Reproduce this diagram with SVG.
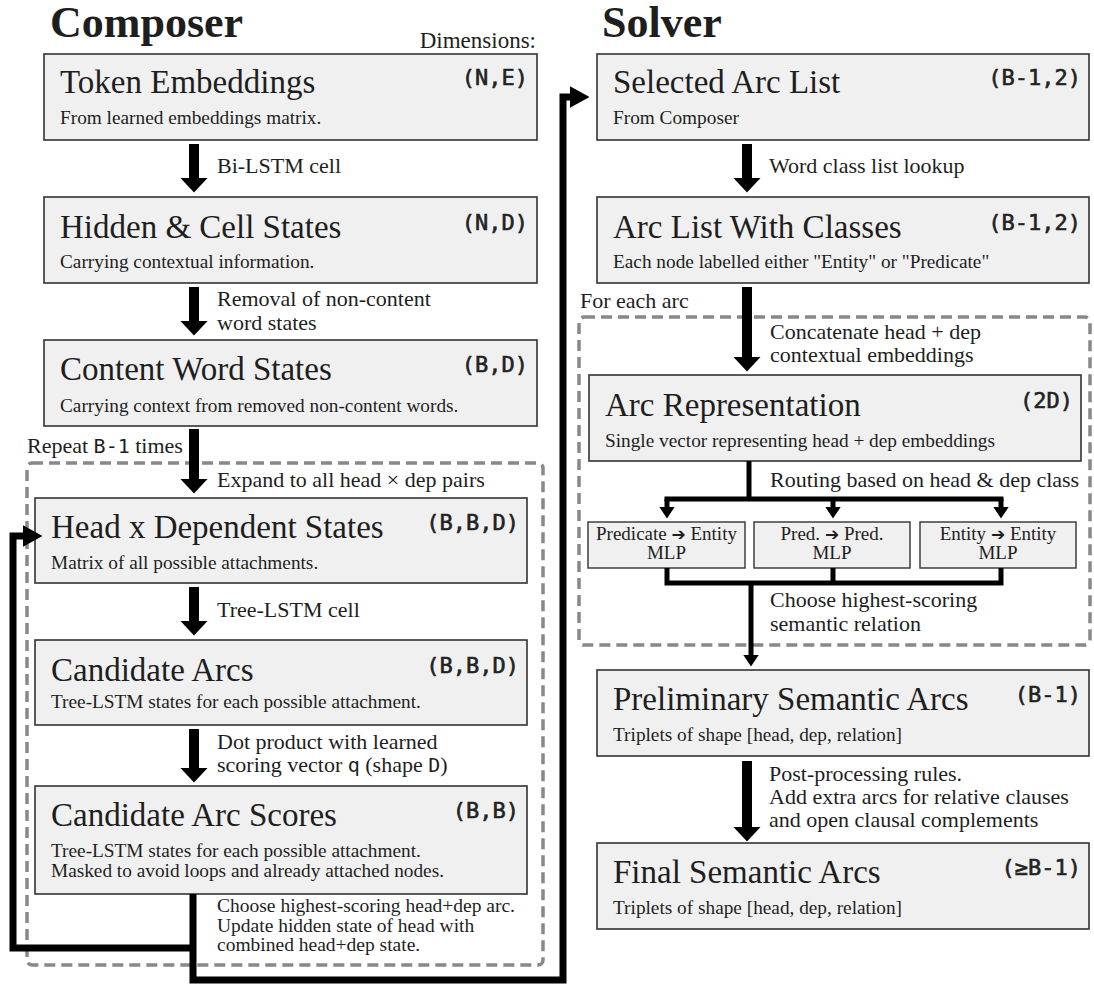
<svg xmlns="http://www.w3.org/2000/svg" width="1094" height="985" viewBox="0 0 1094 985">
<style>
text{font-family:"Liberation Serif","Times New Roman",serif;fill:#1e1e1e}
.box{fill:#f0f0f0;stroke:#333;stroke-width:1.6}
.mlp{fill:#f0f0f0;stroke:#333;stroke-width:1.4}
.t{font-size:33px}
.s{font-size:19.3px}
.l{font-size:22px}
.c{font-size:19.5px}
.m{font-size:19px;text-anchor:middle}
.h{font-size:44px;font-weight:bold}
.d{font-family:"DejaVu Sans Mono",monospace;font-size:22px;text-anchor:end;fill:#222;stroke:#222;stroke-width:0.6}
.mono{font-family:"DejaVu Sans Mono",monospace;font-size:20px}
.big{stroke:#000;stroke-width:10;fill:none}
.loop{stroke:#000;stroke-width:7;fill:none;stroke-linejoin:miter}
.route{stroke:#000;stroke-width:5;fill:none}
.dash{fill:none;stroke:#888;stroke-width:3.5;stroke-dasharray:11 6}
</style>
<defs>
<marker id="bigHead" markerUnits="userSpaceOnUse" markerWidth="16" markerHeight="30" refX="0.5" refY="15" orient="auto"><path d="M0,1 L15,15 L0,29 Z" fill="#000"/></marker>
<marker id="loopHead" markerUnits="userSpaceOnUse" markerWidth="21" markerHeight="24" refX="0.5" refY="12" orient="auto"><path d="M0,1 L20,12 L0,23 Z" fill="#000"/></marker>
<marker id="smallHead" markerUnits="userSpaceOnUse" markerWidth="13" markerHeight="18" refX="0.5" refY="9" orient="auto"><path d="M0,1 L12,9 L0,17 Z" fill="#000"/></marker>
</defs>

<g id="headings">
<text class="h" x="50" y="37">Composer</text>
<text class="h" x="602" y="37">Solver</text>
<text class="l" x="536" y="48" text-anchor="end" style="font-size:23px">Dimensions:</text>
</g>

<g id="groups">
<rect class="dash" x="27" y="463" width="516" height="502" rx="5"/>
<text class="l" x="27" y="453">Repeat <tspan class="mono">B-1</tspan> times</text>
<rect class="dash" x="579" y="317" width="511" height="328" rx="5"/>
<text class="l" x="580" y="308">For each arc</text>
</g>

<g id="token-embeddings">
<rect class="box" x="44" y="54" width="493" height="86"/>
<text class="t" x="60" y="93">Token Embeddings</text>
<text class="d" x="528" y="85">(N,E)</text>
<text class="s" x="60" y="124">From learned embeddings matrix.</text>
</g>

<g id="hidden-cell-states">
<rect class="box" x="44" y="197" width="493" height="86"/>
<text class="t" x="60" y="238">Hidden &amp; Cell States</text>
<text class="d" x="528" y="230">(N,D)</text>
<text class="s" x="60" y="268">Carrying contextual information.</text>
</g>

<g id="content-word-states">
<rect class="box" x="44" y="340" width="493" height="86"/>
<text class="t" x="60" y="380">Content Word States</text>
<text class="d" x="528" y="372">(B,D)</text>
<text class="s" x="60" y="412">Carrying context from removed non-content words.</text>
</g>

<g id="head-dependent-states">
<rect class="box" x="35" y="498" width="492" height="85"/>
<text class="t" x="51" y="538">Head x Dependent States</text>
<text class="d" x="519" y="530">(B,B,D)</text>
<text class="s" x="51" y="569">Matrix of all possible attachments.</text>
</g>

<g id="candidate-arcs">
<rect class="box" x="35" y="640" width="492" height="85"/>
<text class="t" x="51" y="681">Candidate Arcs</text>
<text class="d" x="519" y="673">(B,B,D)</text>
<text class="s" x="51" y="708">Tree-LSTM states for each possible attachment.</text>
</g>

<g id="candidate-arc-scores">
<rect class="box" x="35" y="786" width="492" height="108"/>
<text class="t" x="51" y="826">Candidate Arc Scores</text>
<text class="d" x="519" y="818">(B,B)</text>
<text class="s" x="51" y="857">Tree-LSTM states for each possible attachment.</text>
<text class="s" x="51" y="877">Masked to avoid loops and already attached nodes.</text>
</g>

<g id="selected-arc-list">
<rect class="box" x="597" y="54" width="492" height="86"/>
<text class="t" x="613" y="93">Selected Arc List</text>
<text class="d" x="1081" y="85">(B-1,2)</text>
<text class="s" x="613" y="124">From Composer</text>
</g>

<g id="arc-list-with-classes">
<rect class="box" x="597" y="197" width="492" height="86"/>
<text class="t" x="613" y="238">Arc List With Classes</text>
<text class="d" x="1081" y="230">(B-1,2)</text>
<text class="s" x="613" y="268">Each node labelled either "Entity" or "Predicate"</text>
</g>

<g id="arc-representation">
<rect class="box" x="589" y="375" width="492" height="86"/>
<text class="t" x="605" y="416">Arc Representation</text>
<text class="d" x="1073" y="408">(2D)</text>
<text class="s" x="605" y="447">Single vector representing head + dep embeddings</text>
</g>

<g id="mlp-pred-entity">
<rect class="mlp" x="588" y="522" width="157" height="46"/>
<text class="m" x="666.5" y="540">Predicate <tspan font-family="DejaVu Sans" font-size="17" font-weight="bold">➔</tspan> Entity</text>
<text class="m" x="666.5" y="559">MLP</text>
</g>
<g id="mlp-pred-pred">
<rect class="mlp" x="754" y="522" width="156" height="46"/>
<text class="m" x="832" y="540">Pred. <tspan font-family="DejaVu Sans" font-size="17" font-weight="bold">➔</tspan> Pred.</text>
<text class="m" x="832" y="559">MLP</text>
</g>
<g id="mlp-entity-entity">
<rect class="mlp" x="920" y="522" width="156" height="46"/>
<text class="m" x="998" y="540">Entity <tspan font-family="DejaVu Sans" font-size="17" font-weight="bold">➔</tspan> Entity</text>
<text class="m" x="998" y="559">MLP</text>
</g>

<g id="preliminary-semantic-arcs">
<rect class="box" x="597" y="670" width="492" height="86"/>
<text class="t" x="613" y="710">Preliminary Semantic Arcs</text>
<text class="d" x="1081" y="702">(B-1)</text>
<text class="s" x="613" y="741">Triplets of shape [head, dep, relation]</text>
</g>

<g id="final-semantic-arcs">
<rect class="box" x="597" y="843" width="492" height="86"/>
<text class="t" x="613" y="883">Final Semantic Arcs</text>
<text class="d" x="1081" y="875">(≥B-1)</text>
<text class="s" x="613" y="914">Triplets of shape [head, dep, relation]</text>
</g>

<g id="connectors">
<line class="big" x1="194" y1="144" x2="194" y2="178" marker-end="url(#bigHead)"/>
<line class="big" x1="194" y1="287" x2="194" y2="321" marker-end="url(#bigHead)"/>
<line class="big" x1="194" y1="429" x2="194" y2="479" marker-end="url(#bigHead)"/>
<line class="big" x1="194" y1="587" x2="194" y2="621" marker-end="url(#bigHead)"/>
<line class="big" x1="194" y1="729" x2="194" y2="768" marker-end="url(#bigHead)"/>
<path class="loop" d="M193,894 V980 H563 V97 H570" marker-end="url(#loopHead)"/>
<path class="loop" d="M193,948 H13 V536 H23" marker-end="url(#loopHead)"/>
<line class="big" x1="747" y1="144" x2="747" y2="178" marker-end="url(#bigHead)"/>
<line class="big" x1="747" y1="287" x2="747" y2="357" marker-end="url(#bigHead)"/>
<path class="route" d="M749,461 V499"/>
<path class="route" d="M664.5,499 H1003.5"/>
<line class="route" x1="667" y1="499" x2="667" y2="507" marker-end="url(#smallHead)"/>
<line class="route" x1="833" y1="499" x2="833" y2="507" marker-end="url(#smallHead)"/>
<line class="route" x1="1001" y1="499" x2="1001" y2="507" marker-end="url(#smallHead)"/>
<path class="route" d="M667,568 V583 M833,568 V583 M1001,568 V583 M664.5,583 H1003.5"/>
<line class="route" x1="751" y1="583" x2="751" y2="655" marker-end="url(#smallHead)"/>
<line class="big" x1="747" y1="761" x2="747" y2="827" marker-end="url(#bigHead)"/>
</g>

<g id="labels">
<text class="l" x="217" y="173">Bi-LSTM cell</text>
<text class="l" x="217" y="306">Removal of non-content</text>
<text class="l" x="217" y="330">word states</text>
<text class="l" x="217" y="487">Expand to all head × dep pairs</text>
<text class="l" x="217" y="617">Tree-LSTM cell</text>
<text class="l" x="217" y="749">Dot product with learned</text>
<text class="l" x="217" y="772">scoring vector <tspan class="mono">q</tspan> (shape <tspan class="mono">D</tspan>)</text>
<text class="c" x="217" y="912">Choose highest-scoring head+dep arc.</text>
<text class="c" x="217" y="932">Update hidden state of head with</text>
<text class="c" x="217" y="951">combined head+dep state.</text>
<text class="l" x="769" y="173">Word class list lookup</text>
<text class="l" x="770" y="339">Concatenate head + dep</text>
<text class="l" x="770" y="362">contextual embeddings</text>
<text class="l" x="770" y="487">Routing based on head &amp; dep class</text>
<text class="l" x="770" y="607">Choose highest-scoring</text>
<text class="l" x="770" y="631">semantic relation</text>
<text class="l" x="769" y="781">Post-processing rules.</text>
<text class="l" x="769" y="804">Add extra arcs for relative clauses</text>
<text class="l" x="769" y="827">and open clausal complements</text>
</g>
</svg>
